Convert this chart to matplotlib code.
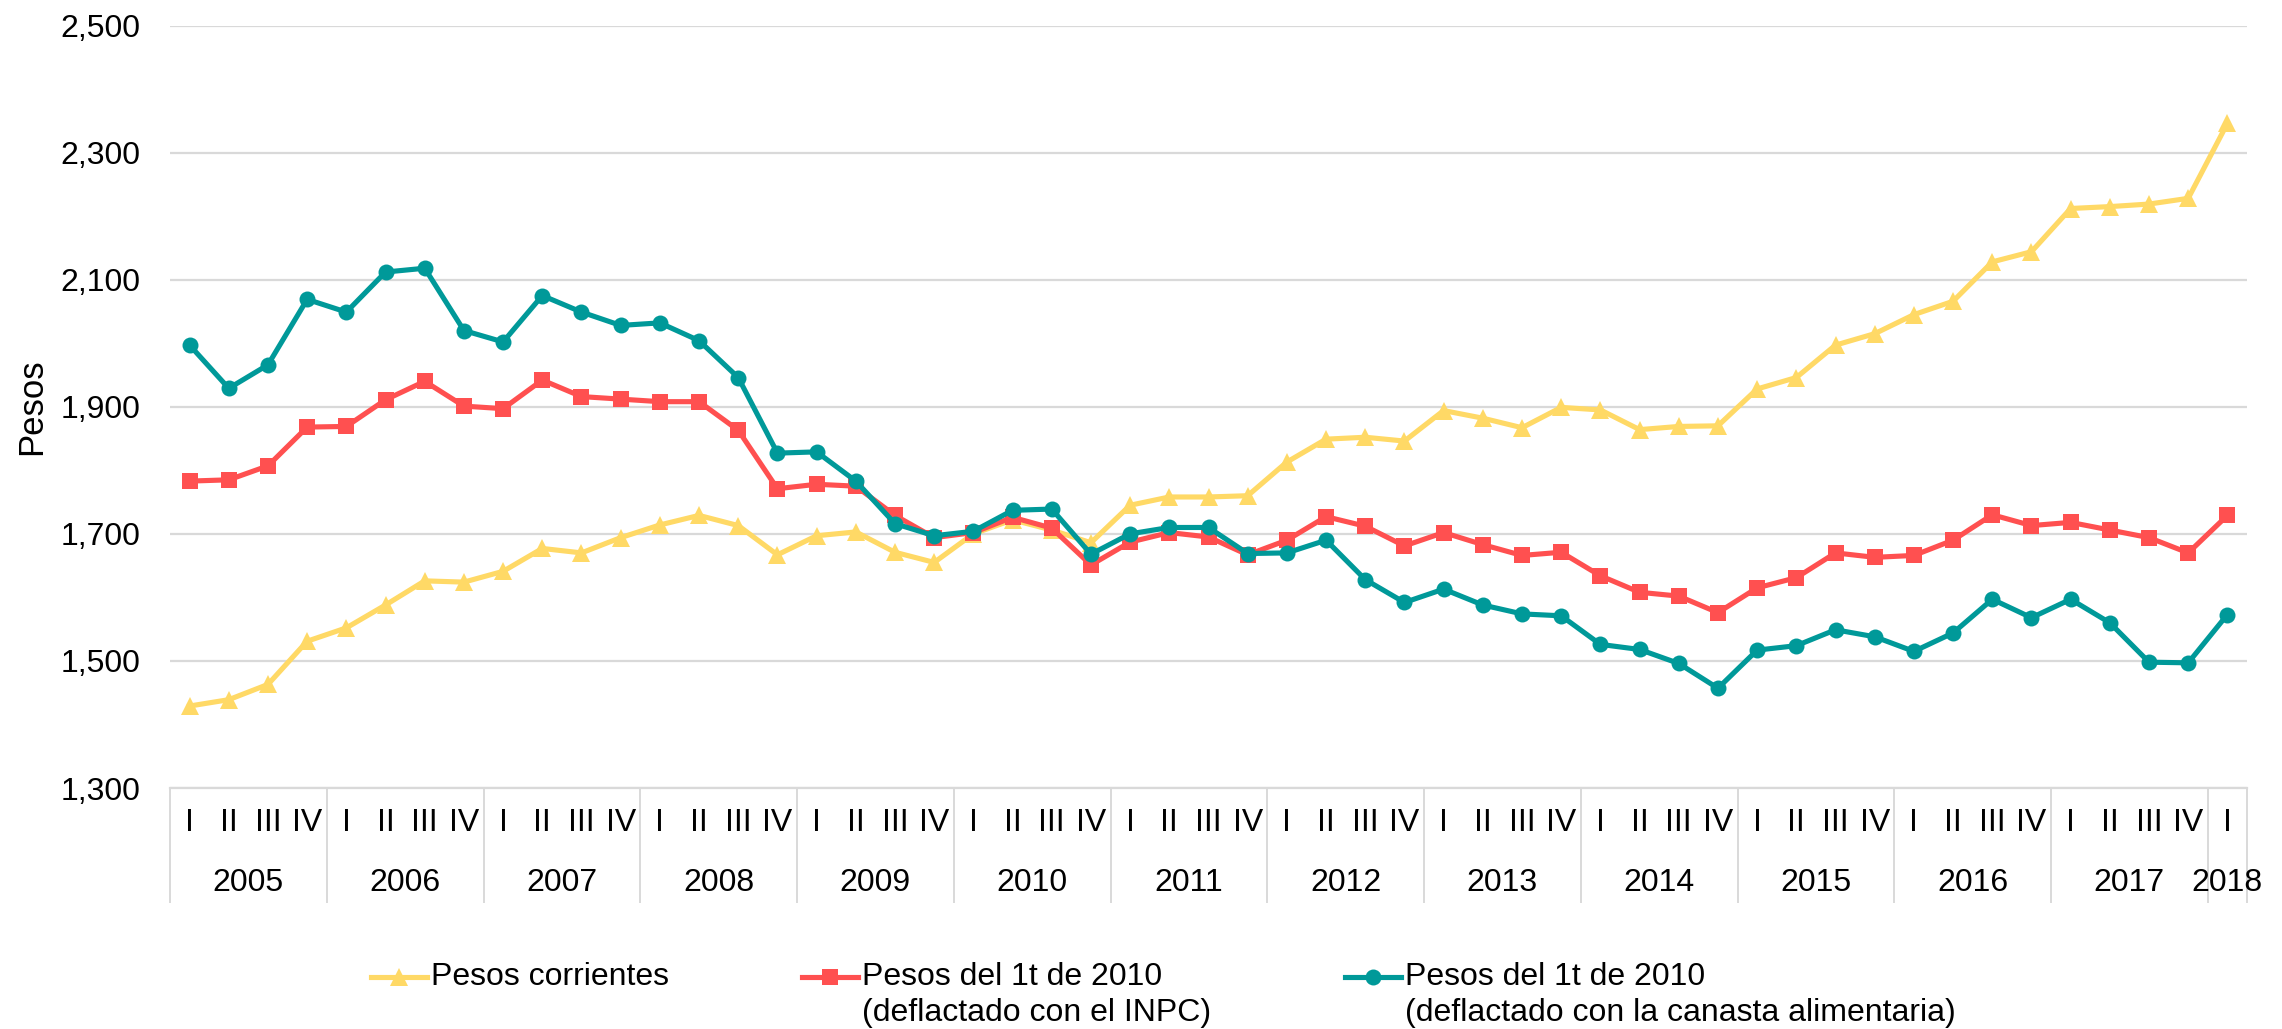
import matplotlib
matplotlib.use("Agg")
import matplotlib.pyplot as plt
from matplotlib.lines import Line2D
from matplotlib.ticker import FuncFormatter

plt.rcParams["font.family"] = ["Liberation Sans", "DejaVu Sans"]

years = [str(y) for y in range(2005, 2019)]
quarters = ["I", "II", "III", "IV"] * 13 + ["I"]

pesos_corrientes = [
    1429, 1439, 1463, 1531, 1552, 1588, 1626, 1624, 1641, 1677, 1670, 1694,
    1714, 1729, 1713, 1667, 1697, 1703, 1671, 1655, 1700, 1722, 1706, 1686,
    1745, 1758, 1758, 1760, 1813, 1849, 1852, 1846, 1894, 1882, 1867, 1899,
    1895, 1864, 1869, 1870, 1928, 1946, 1997, 2015, 2045, 2066, 2128, 2144,
    2212, 2215, 2219, 2228, 2346,
]
pesos_inpc = [
    1783, 1785, 1807, 1868, 1869, 1911, 1940, 1901, 1897, 1942, 1916, 1912,
    1908, 1908, 1863, 1771, 1778, 1775, 1729, 1694, 1702, 1726, 1709, 1651,
    1687, 1702, 1695, 1667, 1690, 1727, 1712, 1681, 1702, 1683, 1666, 1671,
    1634, 1608, 1602, 1576, 1615, 1631, 1670, 1663, 1666, 1690, 1730, 1713,
    1718, 1706, 1694, 1670, 1729,
]
pesos_canasta = [
    1997, 1929, 1966, 2069, 2049, 2112, 2118, 2020, 2002, 2075, 2049, 2028,
    2032, 2004, 1946, 1827, 1829, 1783, 1716, 1697, 1704, 1737, 1739, 1668,
    1700, 1710, 1710, 1669, 1670, 1690, 1628, 1592, 1613, 1588, 1574, 1571,
    1526, 1518, 1496, 1457, 1517, 1524, 1549, 1538, 1515, 1544, 1597, 1568,
    1597, 1560, 1498, 1497, 1573,
]

series = [
    (pesos_corrientes, "#FFD966", "^", 13, "Pesos corrientes"),
    (pesos_inpc, "#FF5050", "s", 11, "Pesos del 1t de 2010\n(deflactado con el INPC)"),
    (pesos_canasta, "#009999", "o", 11.5, "Pesos del 1t de 2010\n(deflactado con la canasta alimentaria)"),
]

W, H = 2282, 1029
fs = 23
fig = plt.figure(figsize=(W / 100, H / 100), dpi=100)
ax = fig.add_axes([170 / W, 1 - 788 / H, (2247 - 170) / W, (788 - 25.5) / H])

x = list(range(len(quarters)))
for vals, color, marker, ms, label in series:
    ax.plot(x, vals, color=color, lw=3.7, marker=marker, ms=ms,
            markeredgewidth=0, label=label)

grid_c = "#D9D9D9"
ax.set_xlim(-0.5, len(quarters) - 0.5)
ax.set_ylim(1300, 2500)
ax.set_yticks(range(1300, 2501, 200))
ax.yaxis.set_major_formatter(FuncFormatter(lambda v, p: f"{int(v):,}"))
ax.tick_params(axis="y", length=0, pad=21, labelsize=fs)
ax.set_xticks([])
ax.grid(axis="y", color=grid_c, lw=1.6)
ax.set_axisbelow(True)
for side in ["top", "right", "left"]:
    ax.spines[side].set_visible(False)
ax.spines["bottom"].set_color(grid_c)
ax.spines["bottom"].set_linewidth(1.6)

# multi-level category axis
trans = ax.get_xaxis_transform()
ax_h = 788 - 25.5
y_q = (788 - 823) / ax_h
y_y = (788 - 883) / ax_h
y_sep = (788 - 902) / ax_h
for i, q in enumerate(quarters):
    ax.text(i, y_q, q, transform=trans, ha="center", va="center", fontsize=fs)
for k, yr in enumerate(years):
    start = 4 * k
    end = min(start + 4, len(quarters))
    ax.text((start + end - 1) / 2, y_y, yr, transform=trans, ha="center",
            va="center", fontsize=fs)
seps = list(range(0, len(quarters), 4)) + [len(quarters)]
for s in seps:
    ax.plot([s - 0.5, s - 0.5], [0, y_sep], transform=trans, color=grid_c,
            lw=1.4, clip_on=False)

fig.text(32 / W, 1 - 407 / H, "Pesos", rotation=90, ha="center", va="center",
         fontsize=25)

# legend
leg_x = [371, 802, 1345]
leg_y = 977
for (vals, color, marker, ms, label), lx in zip(series, leg_x):
    fig.add_artist(Line2D([lx / W, (lx + 56) / W], [1 - leg_y / H] * 2,
                          color=color, lw=3.7, transform=fig.transFigure))
    fig.add_artist(Line2D([(lx + 28) / W], [1 - leg_y / H], color=color,
                          marker=marker, ms=ms, markeredgewidth=0,
                          transform=fig.transFigure))
    for j, line in enumerate(label.split("\n")):
        fig.text((lx + 60) / W, 1 - (leg_y + 36 * j) / H, line, ha="left",
                 va="center", fontsize=fs)

fig.savefig("out.png", dpi=100)
